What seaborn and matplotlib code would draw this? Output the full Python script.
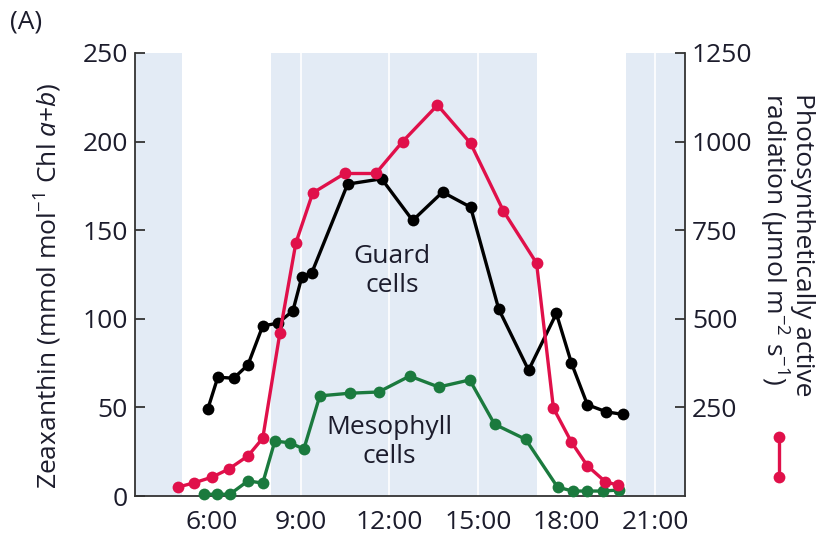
import numpy as np
import pandas as pd
import matplotlib
matplotlib.use("Agg")
import matplotlib.pyplot as plt
import seaborn as sns
from matplotlib.lines import Line2D

# ---------------- data ----------------
par_hour = [4.85, 5.39, 6.0, 6.57, 7.22, 7.72, 8.30, 8.84, 9.41, 10.49, 11.54, 12.45,
            13.63, 14.75, 15.86, 16.98, 17.55, 18.16, 18.70, 19.31, 19.72]
par_value = [25, 37, 53, 76, 113, 163, 460, 714, 855, 910, 910, 1000,
             1103, 995, 804, 657, 248, 152, 85, 40, 31]

guard_hour = [5.86, 6.20, 6.74, 7.22, 7.72, 8.23, 8.74, 9.04, 9.38, 10.59, 11.74, 12.79,
              13.80, 14.75, 15.70, 16.71, 17.65, 18.16, 18.70, 19.34, 19.92]
guard_value = [49, 67, 66.5, 74, 96, 97.5, 104.5, 123.5, 126, 176, 179, 155.5,
               171.5, 163, 105.5, 71, 103, 75, 51.5, 47.5, 46]

meso_hour = [5.73, 6.17, 6.61, 7.22, 7.72, 8.13, 8.64, 9.11, 9.65, 10.66, 11.64, 12.69,
             13.67, 14.72, 15.56, 16.61, 17.69, 18.20, 18.70, 19.24, 19.78]
meso_value = [1, 1, 1, 8.5, 7.3, 31, 30, 26.5, 56.5, 58, 58.7, 67.7,
              61.5, 65.5, 40.5, 32, 5, 2.8, 2.8, 2.8, 3.4]

dark_periods = [(3.4, 5.0), (8.0, 17.0), (20.0, 22.0)]
xticks = [6, 9, 12, 15, 18, 21]
xtick_labels = ["6:00", "9:00", "12:00", "15:00", "18:00", "21:00"]
left_ticks = [0, 50, 100, 150, 200, 250]
right_ticks = [250, 500, 750, 1000, 1250]

# ---------------- style ----------------
sns.set_theme(style="white")
plt.rcParams["font.family"] = ["Open Sans", "DejaVu Sans"]
plt.rcParams["mathtext.fontset"] = "custom"
plt.rcParams["mathtext.rm"] = "Open Sans"
plt.rcParams["mathtext.it"] = "Open Sans:italic"
plt.rcParams["mathtext.default"] = "regular"

TXT = "#1c1c2c"
RED = "#e0104a"
GREEN = "#1b7a3e"
SHADE = "#e3ebf5"
FS = 19

fig = plt.figure(figsize=(8.29, 5.38), dpi=100)
ax = fig.add_axes([135 / 829, 1 - 496 / 538, 550 / 829, 443 / 538])
ax.set_xlim(3.4, 22)
ax.set_ylim(0, 250)

for a, b in dark_periods:
    ax.axvspan(a, b, color=SHADE, lw=0, zorder=0)
for xt in xticks:
    ax.axvline(xt, color="white", lw=1.2, zorder=0.5)

df_g = pd.DataFrame({"hour": guard_hour, "value": guard_value})
df_m = pd.DataFrame({"hour": meso_hour, "value": meso_value})
df_p = pd.DataFrame({"hour": par_hour, "value": par_value})

sns.lineplot(data=df_g, x="hour", y="value", ax=ax, color="black", lw=2.4,
             marker="o", markersize=8.5, markeredgewidth=0, zorder=3)
sns.lineplot(data=df_m, x="hour", y="value", ax=ax, color=GREEN, lw=2.4,
             marker="o", markersize=8.5, markeredgewidth=0, zorder=3, clip_on=False)

ax2 = ax.twinx()
ax2.set_ylim(0, 1250)
sns.lineplot(data=df_p, x="hour", y="value", ax=ax2, color=RED, lw=2.4,
             marker="o", markersize=8.5, markeredgewidth=0, zorder=3)

ax.set_xlim(3.4, 22)
ax2.set_xlim(3.4, 22)

ax.set_xticks(xticks)
ax.set_xticklabels(xtick_labels)
ax.set_yticks(left_ticks)
ax2.set_yticks(right_ticks)
ax.set_xlabel("")
ax.set_ylabel("")
ax2.set_xlabel("")
ax2.set_ylabel("")

for a in (ax, ax2):
    for s in a.spines.values():
        s.set_visible(False)
ax.spines["left"].set_visible(True)
ax.spines["bottom"].set_visible(True)
ax2.spines["right"].set_visible(True)
for s in (ax.spines["left"], ax.spines["bottom"], ax2.spines["right"]):
    s.set_color("#333333")
    s.set_linewidth(1.3)

ax.tick_params(axis="both", direction="in", length=7, width=1.3, color="#333333",
               labelsize=FS, labelcolor=TXT, pad=5)
ax.tick_params(axis="x", pad=10)
ax2.tick_params(axis="y", direction="in", length=7, width=1.3, color="#333333",
                labelsize=FS, labelcolor=TXT, pad=5)

ax.text(12.1, 127, "Guard\ncells", ha="center", va="center", fontsize=FS,
        color=TXT, linespacing=1.2, zorder=4)
ax.text(12.0, 30.5, "Mesophyll\ncells", ha="center", va="center", fontsize=FS,
        color=TXT, linespacing=1.2, zorder=4)

fig.text(48 / 829, 1 - 286 / 538, r"Zeaxanthin (mmol mol$^{-1}$ Chl $\it{a}$+$\it{b}$)",
         rotation=90, ha="center", va="center", fontsize=FS, color=TXT)
fig.text(786 / 829, 1 - 93 / 538,
         "Photosynthetically active\nradiation (µmol m$^{-2}$ s$^{-1}$)",
         rotation=270, ha="center", va="top", fontsize=FS, color=TXT,
         multialignment="left", linespacing=1.0)
fig.text(10 / 829, 1 - 22 / 538, "(A)", ha="left", va="center",
         fontsize=FS, color=TXT)

leg = Line2D([779 / 829, 779 / 829], [1 - 437 / 538, 1 - 477 / 538],
             transform=fig.transFigure, color=RED, lw=2.4, marker="o",
             markersize=8.5, markeredgewidth=0)
fig.add_artist(leg)

fig.savefig("out.png", dpi=100)
